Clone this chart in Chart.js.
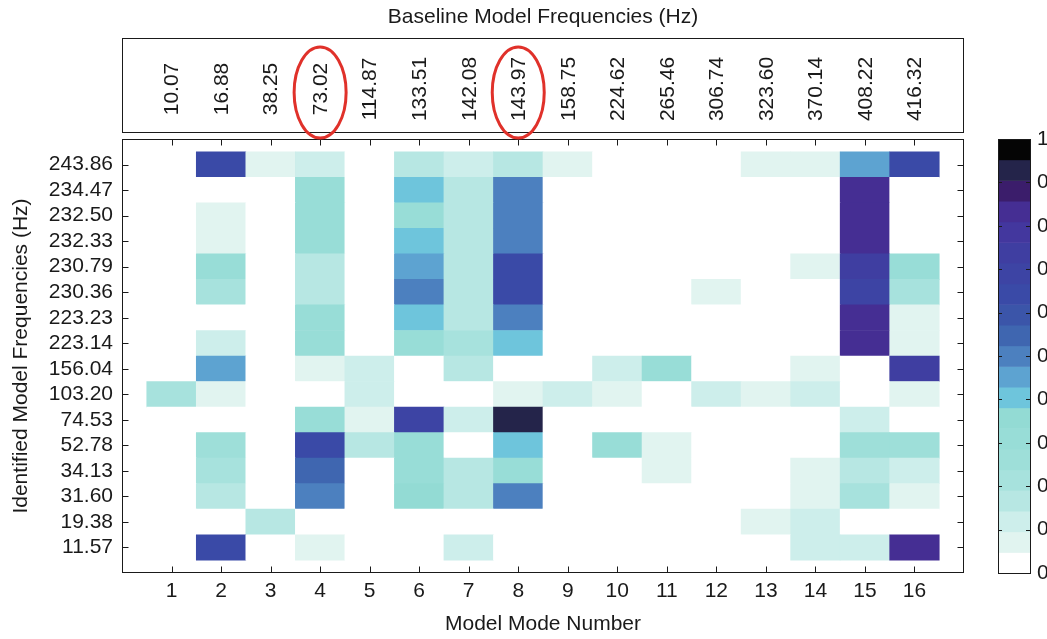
<!DOCTYPE html>
<html>
<head>
<meta charset="utf-8">
<title>Mode correlation map</title>
<script src="https://cdn.jsdelivr.net/npm/chart.js@4.4.1/dist/chart.umd.min.js"></script>
<style>
  html, body { margin: 0; padding: 0; background: #ffffff; }
  #wrap { width: 1047px; height: 639px; }
  canvas { display: block; }
</style>
</head>
<body>
<div id="wrap"><canvas id="map" width="1047" height="639" style="width:1047px;height:639px"></canvas></div>
<script>
// Model mode numbers (x axis) and their baseline frequencies (top strip)
const modeNumbers = [1, 2, 3, 4, 5, 6, 7, 8, 9, 10, 11, 12, 13, 14, 15, 16];
const baselineFrequencies = ['10.07', '16.88', '38.25', '73.02', '114.87', '133.51', '142.08', '143.97',
  '158.75', '224.62', '265.46', '306.74', '323.60', '370.14', '408.22', '416.32'];

// Identified frequencies, top row first
const identifiedFrequencies = ['243.86', '234.47', '232.50', '232.33', '230.79', '230.36', '223.23', '223.14',
  '156.04', '103.20', '74.53', '52.78', '34.13', '31.60', '19.38', '11.57'];

// Correlation of each identified mode with model modes 1..16
const id243_86 = [0, .64, .07, .12, 0, .17, .12, .17, .07, 0, 0, 0, .07, .07, .45, .64];
const id234_47 = [0, 0, 0, .31, 0, .40, .17, .50, 0, 0, 0, 0, 0, 0, .83, 0];
const id232_50 = [0, .07, 0, .31, 0, .31, .17, .50, 0, 0, 0, 0, 0, 0, .83, 0];
const id232_33 = [0, .07, 0, .31, 0, .40, .17, .50, 0, 0, 0, 0, 0, 0, .83, 0];
const id230_79 = [0, .31, 0, .17, 0, .45, .17, .64, 0, 0, 0, 0, 0, .07, .74, .31];
const id230_36 = [0, .21, 0, .17, 0, .50, .17, .66, 0, 0, 0, .07, 0, 0, .69, .21];
const id223_23 = [0, 0, 0, .31, 0, .40, .17, .50, 0, 0, 0, 0, 0, 0, .83, .07];
const id223_14 = [0, .12, 0, .31, 0, .31, .21, .40, 0, 0, 0, 0, 0, 0, .83, .07];
const id156_04 = [0, .45, 0, .07, .12, 0, .17, 0, 0, .12, .31, 0, 0, .07, 0, .74];
const id103_20 = [.21, .07, 0, 0, .12, 0, 0, .07, .12, .07, 0, .12, .07, .12, 0, .07];
const id74_53  = [0, 0, 0, .31, .07, .69, .12, .93, 0, 0, 0, 0, 0, 0, .12, 0];
const id52_78  = [0, .26, 0, .64, .17, .31, 0, .40, 0, .31, .07, 0, 0, 0, .26, .26];
const id34_13  = [0, .21, 0, .55, 0, .31, .17, .31, 0, 0, .07, 0, 0, .07, .17, .12];
const id31_60  = [0, .17, 0, .50, 0, .36, .17, .50, 0, 0, 0, 0, 0, .07, .21, .07];
const id19_38  = [0, 0, .17, 0, 0, 0, 0, 0, 0, 0, 0, 0, .07, .12, 0, 0];
const id11_57  = [0, .64, 0, .07, 0, 0, .12, 0, 0, 0, 0, 0, 0, .12, .12, .83];

const correlationRows = [id243_86, id234_47, id232_50, id232_33, id230_79, id230_36, id223_23, id223_14,
  id156_04, id103_20, id74_53, id52_78, id34_13, id31_60, id19_38, id11_57];

// Modes ringed in red in the frequency strip
const circledModes = [4, 8];

// Colour bar ticks
const colorbarTicks = [0, 0.1, 0.2, 0.3, 0.4, 0.5, 0.6, 0.7, 0.8, 0.9, 1];
const colorbarLabels = ['0', '0.1', '0.2', '0.3', '0.4', '0.5', '0.6', '0.7', '0.8', '0.9', '1'];

// Discrete colour map, lowest level first
const palette = ['#ffffff', '#e1f4f0', '#cdeeeb', '#b7e7e3', '#a7e2dd', '#9edfd9', '#98ddd7',
  '#93dbd4', '#6ec5dc', '#5da3d1', '#4c80bf', '#3f66b0', '#3b55a9', '#3a4aa7', '#3d44a4',
  '#3f3ea1', '#43379e', '#452e93', '#3b1d6b', '#24244a', '#050505'];

const FONT = '"Liberation Sans", Arial, Helvetica, sans-serif';
const INK = '#1a1a1a';

function colourFor(v) {
  const k = Math.min(palette.length - 1, Math.max(0, Math.floor(v * palette.length)));
  return palette[k];
}

// One floating bar per cell: x = mode number, y spans the row's slot
const nRows = identifiedFrequencies.length;
const cells = [];
correlationRows.forEach((row, r) => {
  const yc = nRows - r;
  row.forEach((v, c) => {
    cells.push({ x: modeNumbers[c], y: [yc - 0.5, yc + 0.5], v: v });
  });
});

function keepInner(scale) {
  scale.ticks = scale.ticks.filter(t => t.value >= 1 && t.value <= 16);
}

const frame = {
  id: 'frame',
  afterDraw(chart) {
    const { ctx, chartArea: a, scales } = chart;
    const x = scales.x, y = scales.y, cb = scales.cb;
    const L = Math.round(a.left) + 0.5, R = Math.round(a.right) - 0.5;
    const T = Math.round(a.top) + 0.5, B = Math.round(a.bottom) - 0.5;
    ctx.save();
    ctx.strokeStyle = INK;
    ctx.lineWidth = 1;

    // axes box with inward ticks on all sides
    ctx.strokeRect(L, T, R - L, B - T);
    const tk = 6;
    ctx.beginPath();
    x.ticks.forEach(t => {
      const px = Math.round(x.getPixelForValue(t.value)) + 0.5;
      ctx.moveTo(px, B); ctx.lineTo(px, B - tk);
      ctx.moveTo(px, T); ctx.lineTo(px, T + tk);
    });
    y.ticks.forEach(t => {
      const py = Math.round(y.getPixelForValue(t.value)) + 0.5;
      ctx.moveTo(L, py); ctx.lineTo(L + tk, py);
      ctx.moveTo(R, py); ctx.lineTo(R - tk, py);
    });
    ctx.stroke();

    // strip of baseline frequencies above the map
    const sTop = 38.5, sBot = 132.5;
    ctx.strokeRect(L, sTop, R - L, sBot - sTop);
    ctx.fillStyle = INK;
    ctx.font = '21px ' + FONT;
    ctx.textAlign = 'center';
    ctx.textBaseline = 'middle';
    ctx.fillText('Baseline Model Frequencies (Hz)', (a.left + a.right) / 2, 17);
    baselineFrequencies.forEach((f, i) => {
      const px = x.getPixelForValue(modeNumbers[i]);
      ctx.save();
      ctx.translate(px + 1, 89);
      ctx.rotate(-Math.PI / 2);
      ctx.fillText(f, 0, 0);
      ctx.restore();
    });

    // red rings around the highlighted modes
    ctx.strokeStyle = '#e0312a';
    ctx.lineWidth = 3;
    circledModes.forEach(m => {
      ctx.beginPath();
      ctx.ellipse(x.getPixelForValue(m), 92.5, 26, 45.5, 0, 0, Math.PI * 2);
      ctx.stroke();
    });

    // colour bar
    const cbL = 998, cbR = 1030;
    const n = palette.length;
    for (let k = 0; k < n; k++) {
      const y0 = cb.getPixelForValue(k / n);
      const y1 = cb.getPixelForValue((k + 1) / n);
      ctx.fillStyle = palette[k];
      ctx.fillRect(cbL, y1, cbR - cbL, y0 - y1 + 0.5);
    }
    ctx.strokeStyle = INK;
    ctx.lineWidth = 1;
    const cT = Math.round(cb.getPixelForValue(1)) + 0.5;
    const cB = Math.round(cb.getPixelForValue(0)) + 0.5;
    ctx.strokeRect(cbL + 0.5, cT, cbR - cbL, cB - cT);
    ctx.beginPath();
    colorbarTicks.forEach(v => {
      const py = Math.round(cb.getPixelForValue(v)) + 0.5;
      ctx.moveTo(cbL, py); ctx.lineTo(cbL + 4, py);
      ctx.moveTo(cbR, py); ctx.lineTo(cbR - 4, py);
    });
    ctx.stroke();
    ctx.fillStyle = INK;
    ctx.textAlign = 'left';
    colorbarTicks.forEach((v, i) => {
      ctx.fillText(colorbarLabels[i], 1037, cb.getPixelForValue(v));
    });
    ctx.restore();
  }
};

Chart.defaults.font.family = FONT;
Chart.defaults.font.size = 21;
Chart.defaults.color = INK;

new Chart(document.getElementById('map'), {
  type: 'bar',
  data: {
    datasets: [{
      data: cells,
      backgroundColor: ctx => colourFor(ctx.raw ? ctx.raw.v : 0),
      borderWidth: 0,
      barPercentage: 1,
      categoryPercentage: 1,
      grouped: false
    }]
  },
  options: {
    responsive: false,
    animation: false,
    devicePixelRatio: 1,
    layout: { padding: { top: 139, right: 83, left: 0, bottom: 0 } },
    plugins: { legend: { display: false }, tooltip: { enabled: false }, title: { display: false } },
    scales: {
      x: {
        type: 'linear',
        min: 0, max: 17,
        offset: false,
        grid: { display: false, drawTicks: false, offset: false },
        border: { display: false },
        ticks: { stepSize: 1, autoSkip: false, maxRotation: 0, padding: 6, callback: v => String(v) },
        afterBuildTicks: keepInner,
        afterFit: s => { s.height = 66; },
        title: { display: true, text: 'Model Mode Number', padding: { top: 0, bottom: 2 } }
      },
      y: {
        type: 'linear',
        min: 0, max: 17,
        grid: { display: false, drawTicks: false },
        border: { display: false },
        ticks: { stepSize: 1, autoSkip: false, padding: 9,
                 callback: v => identifiedFrequencies[nRows - v] },
        afterBuildTicks: keepInner,
        afterFit: s => { s.width = 122; },
        title: { display: true, text: 'Identified Model Frequencies (Hz)', padding: { top: 9, bottom: 0 } }
      },
      cb: {
        type: 'linear',
        position: 'right',
        display: false,
        min: 0, max: 1
      }
    }
  },
  plugins: [frame]
});
</script>
</body>
</html>
